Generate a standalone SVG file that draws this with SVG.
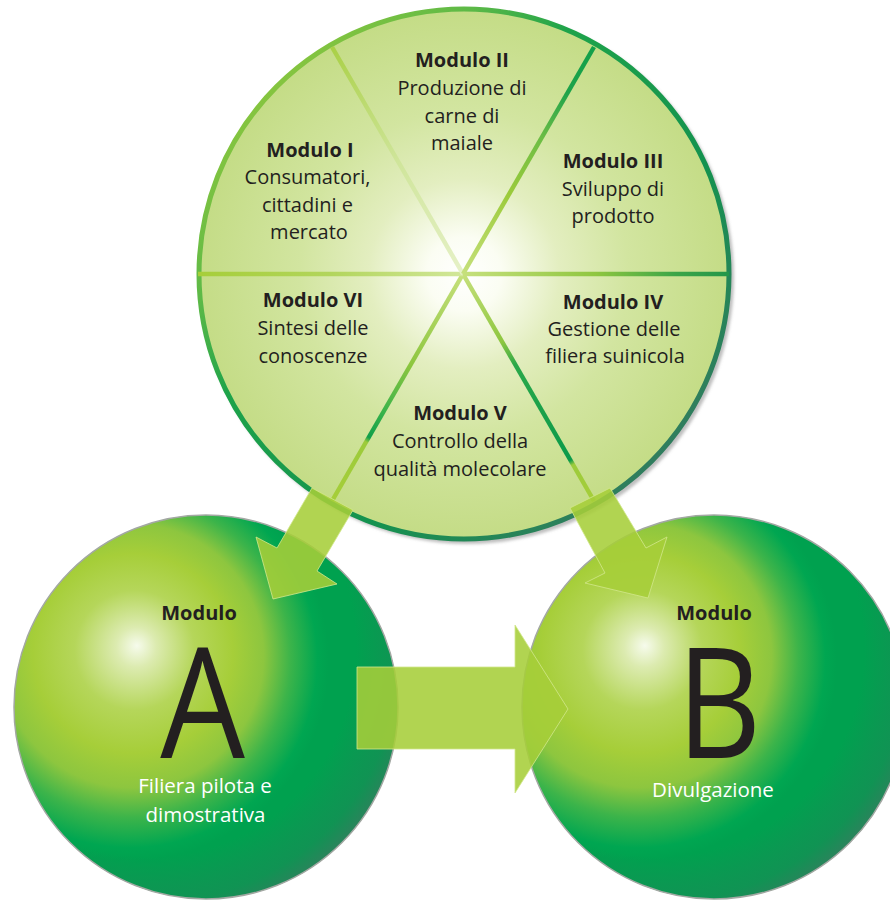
<svg xmlns="http://www.w3.org/2000/svg" width="890" height="902" viewBox="0 0 890 902">
<style>
.t{font-family:"Open Sans","Noto Sans","Liberation Sans",sans-serif;font-size:20px;fill:#231f20;text-anchor:middle}
.b{font-weight:700}
.w{fill:#ffffff;font-weight:500;font-size:20.5px}
.big{font-family:"Open Sans","Noto Sans","Liberation Sans",sans-serif;font-size:154px;fill:#231f20;text-anchor:middle}
.spoke{stroke-width:4.5;stroke-linecap:butt;fill:none}
.arrow{fill:#a6ce39;fill-opacity:0.88;stroke:#d2e78c;stroke-width:1;stroke-opacity:0.8}
.sph-edge{fill:none;stroke:#a3a8a3;stroke-width:1.5}
</style>
<defs>
<radialGradient id="sphere" cx="0.3" cy="0.38" r="0.52" fx="0.32" fy="0.34">
<stop offset="0" stop-color="#f6fbec"/>
<stop offset="0.1" stop-color="#dcebb0"/>
<stop offset="0.3" stop-color="#b5d65a"/>
<stop offset="0.5" stop-color="#a6ce39"/>
<stop offset="0.66" stop-color="#8dc63f"/>
<stop offset="0.8" stop-color="#3cb44a"/>
<stop offset="0.94" stop-color="#00a651"/>
<stop offset="1" stop-color="#00a14f"/>
</radialGradient>
<radialGradient id="sphereShade" cx="0.35" cy="0.35" r="0.75">
<stop offset="0.72" stop-color="#3f6f5f" stop-opacity="0"/>
<stop offset="0.88" stop-color="#2e7a5c" stop-opacity="0.35"/>
<stop offset="1" stop-color="#4a7466" stop-opacity="0.95"/>
</radialGradient>
<radialGradient id="wheelFill" cx="464" cy="274" r="265" gradientUnits="userSpaceOnUse">
<stop offset="0" stop-color="#ffffff"/>
<stop offset="0.14" stop-color="#fbfdf3"/>
<stop offset="0.36" stop-color="#e3eec0"/>
<stop offset="0.62" stop-color="#d2e5a0"/>
<stop offset="1" stop-color="#c4dc86"/>
</radialGradient>
<linearGradient id="ring" x1="230" y1="60" x2="700" y2="500" gradientUnits="userSpaceOnUse">
<stop offset="0" stop-color="#9ccb3b"/>
<stop offset="0.22" stop-color="#5cb947"/>
<stop offset="0.35" stop-color="#1ea34a"/>
<stop offset="0.65" stop-color="#14924f"/>
<stop offset="1" stop-color="#3a7663"/>
</linearGradient>
<linearGradient id="sp0" x1="463" y1="274" x2="729" y2="274" gradientUnits="userSpaceOnUse">
<stop offset="0" stop-color="#c6e07c"/><stop offset="0.5" stop-color="#8fc640"/><stop offset="0.8" stop-color="#3aa548"/><stop offset="1" stop-color="#23964a"/>
</linearGradient>
<linearGradient id="sp60" x1="463" y1="274" x2="594" y2="501" gradientUnits="userSpaceOnUse">
<stop offset="0" stop-color="#c6e07c"/><stop offset="0.3" stop-color="#8dc63f"/><stop offset="0.4" stop-color="#2aa84a"/><stop offset="0.82" stop-color="#0a9a4a"/><stop offset="0.84" stop-color="#9ccb3b"/><stop offset="1" stop-color="#a6ce39"/>
</linearGradient>
<linearGradient id="sp120" x1="463" y1="274" x2="332" y2="501" gradientUnits="userSpaceOnUse">
<stop offset="0" stop-color="#c6e07c"/><stop offset="0.4" stop-color="#8dc63f"/><stop offset="0.6" stop-color="#3cb44a"/><stop offset="0.72" stop-color="#109f4a"/><stop offset="0.74" stop-color="#9ccb3b"/><stop offset="1" stop-color="#a6ce39"/>
</linearGradient>
<linearGradient id="sp180" x1="463" y1="274" x2="198" y2="274" gradientUnits="userSpaceOnUse">
<stop offset="0" stop-color="#d2e79a"/><stop offset="0.5" stop-color="#b2d55c"/><stop offset="1" stop-color="#a6ce39"/>
</linearGradient>
<linearGradient id="sp240" x1="463" y1="274" x2="332" y2="47" gradientUnits="userSpaceOnUse">
<stop offset="0" stop-color="#e6f1c8"/><stop offset="0.5" stop-color="#cfe59a"/><stop offset="1" stop-color="#a9d046"/>
</linearGradient>
<linearGradient id="sp300" x1="463" y1="274" x2="594" y2="47" gradientUnits="userSpaceOnUse">
<stop offset="0" stop-color="#c6e07c"/><stop offset="0.35" stop-color="#9ccb3b"/><stop offset="0.6" stop-color="#6cbd45"/><stop offset="0.8" stop-color="#1ea34a"/><stop offset="1" stop-color="#12a04a"/>
</linearGradient>
<filter id="blur" x="-10%" y="-10%" width="120%" height="120%"><feGaussianBlur stdDeviation="1.5"/></filter>
</defs>
<rect width="890" height="902" fill="#ffffff"/>

<g id="node-A">
<circle cx="206" cy="707" r="192" fill="url(#sphere)"/>
<circle cx="206" cy="707" r="192" fill="url(#sphereShade)"/>
<circle class="sph-edge" cx="206" cy="707" r="192"/>
<text class="t b" x="199" y="620">Modulo</text>
<text class="big" transform="translate(202.5 758) scale(0.87 1)" x="0" y="0">A</text>
<text class="t w" x="205" y="793">Filiera pilota e</text>
<text class="t w" x="205.5" y="822">dimostrativa</text>
</g>

<g id="node-B">
<circle cx="714" cy="707" r="192" fill="url(#sphere)"/>
<circle cx="714" cy="707" r="192" fill="url(#sphereShade)"/>
<circle class="sph-edge" cx="714" cy="707" r="192"/>
<text class="t b" x="714" y="620">Modulo</text>
<text class="big" transform="translate(719 758) scale(0.85 1)" x="0" y="0">B</text>
<text class="t w" x="713" y="797">Divulgazione</text>
</g>

<g id="wheel">
<circle cx="467" cy="277" r="267" fill="#8a8a8a" fill-opacity="0.55" filter="url(#blur)"/>
<circle cx="464" cy="274" r="265" fill="url(#wheelFill)" stroke="url(#ring)" stroke-width="5"/>
<line class="spoke" x1="463" y1="274" x2="729" y2="274" stroke="url(#sp0)"/>
<line class="spoke" x1="463" y1="274" x2="594" y2="501" stroke="url(#sp60)"/>
<line class="spoke" x1="463" y1="274" x2="332" y2="501" stroke="url(#sp120)"/>
<line class="spoke" x1="463" y1="274" x2="198" y2="274" stroke="url(#sp180)"/>
<line class="spoke" x1="463" y1="274" x2="332" y2="47" stroke="url(#sp240)"/>
<line class="spoke" x1="463" y1="274" x2="594" y2="47" stroke="url(#sp300)"/>
</g>

<g id="modulo-I">
<text class="t b" x="310" y="157">Modulo I</text>
<text class="t" x="307.5" y="184">Consumatori,</text>
<text class="t" x="307.5" y="212">cittadini e</text>
<text class="t" x="309" y="239">mercato</text>
</g>
<g id="modulo-II">
<text class="t b" x="462" y="67">Modulo II</text>
<text class="t" x="462" y="95">Produzione di</text>
<text class="t" x="462" y="123">carne di</text>
<text class="t" x="462" y="150">maiale</text>
</g>
<g id="modulo-III">
<text class="t b" x="613" y="168">Modulo III</text>
<text class="t" x="613" y="196">Sviluppo di</text>
<text class="t" x="613" y="223">prodotto</text>
</g>
<g id="modulo-IV">
<text class="t b" x="613" y="309">Modulo IV</text>
<text class="t" x="614" y="336">Gestione delle</text>
<text class="t" x="615" y="363">filiera suinicola</text>
</g>
<g id="modulo-V">
<text class="t b" x="460" y="420">Modulo V</text>
<text class="t" x="460" y="448">Controllo della</text>
<text class="t" x="460" y="476">qualità molecolare</text>
</g>
<g id="modulo-VI">
<text class="t b" x="313" y="307">Modulo VI</text>
<text class="t" x="313" y="335">Sintesi delle</text>
<text class="t" x="313" y="363">conoscenze</text>
</g>

<g id="connectors">
<polygon class="arrow" points="312,488 353,510 317,571 337,584 273,599 256,537 277,548"/>
<polygon class="arrow" points="570,508 610,488 646,548 667,537 648,598 585,583 605,573"/>
<polygon class="arrow" points="357,667 515,667 515,625 568,709 515,793 515,749 357,749"/>
</g>
</svg>
